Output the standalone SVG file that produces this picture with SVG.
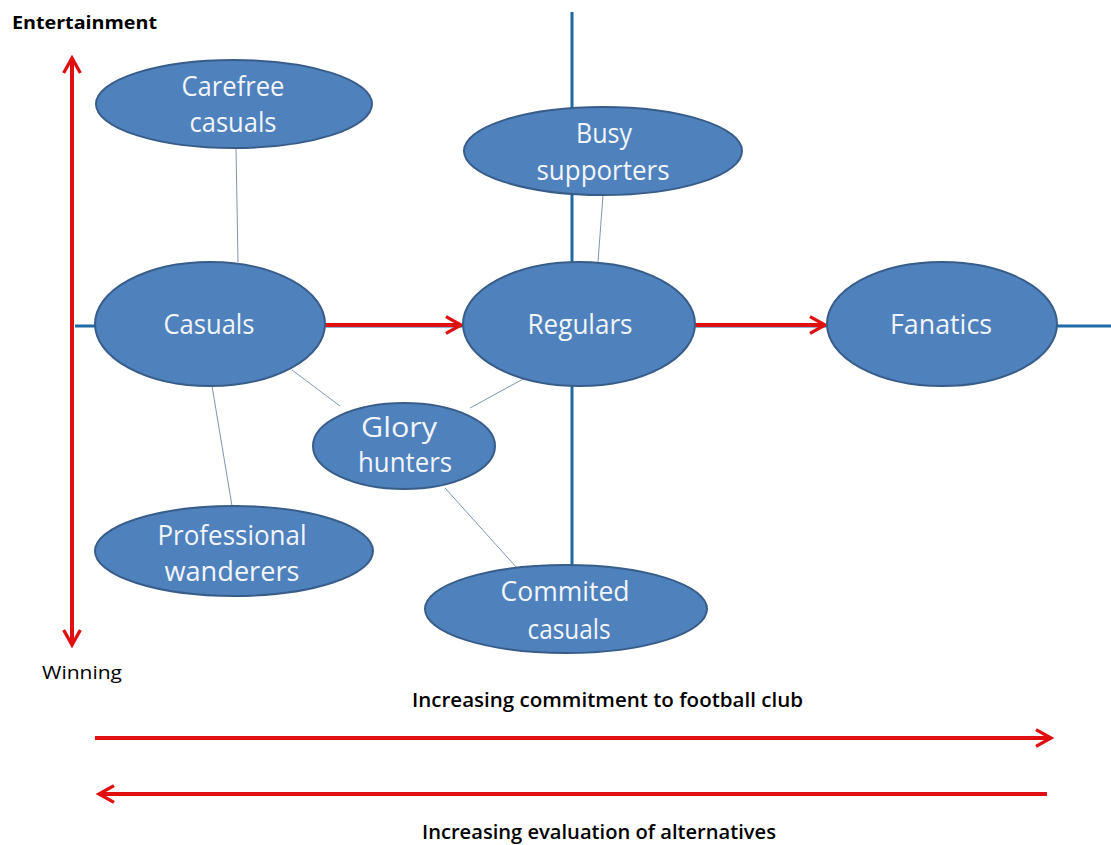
<svg xmlns="http://www.w3.org/2000/svg" width="1111" height="845" viewBox="0 0 1111 845">
<style>
.n ellipse{fill:#4f81bd;stroke:#385d8a;stroke-width:2}
.n text{fill:#f2f5fa;font-family:"Open Sans","Liberation Sans",sans-serif;font-size:27px;text-anchor:middle}
.axis{stroke:#1f6aa5;stroke-width:3;fill:none}
.thin{stroke:#7f96b2;stroke-width:1;fill:none}
.red{stroke:#e01010;stroke-width:4;fill:none}
.lbl{fill:#000;font-family:"Open Sans","Liberation Sans",sans-serif;font-size:19px;font-weight:600}
</style>
<defs>
<marker id="ah" viewBox="0 0 12 12" refX="10" refY="6" markerWidth="5" markerHeight="5" orient="auto-start-reverse" markerUnits="strokeWidth">
<path d="M1,1 L10,6 L1,11" fill="none" stroke="#e01010" stroke-width="2"/>
</marker>
</defs>
<rect width="1111" height="845" fill="#fff"/>
<g id="connectors">
<line class="axis" x1="572" y1="12" x2="572" y2="568"/>
<line class="axis" x1="75" y1="326" x2="1111" y2="326"/>
<line class="thin" x1="236" y1="148" x2="238" y2="262"/>
<line class="thin" x1="603" y1="195" x2="598" y2="262"/>
<line class="thin" x1="292" y1="370" x2="340" y2="406"/>
<line class="thin" x1="525" y1="378" x2="470" y2="408"/>
<line class="thin" x1="212" y1="386" x2="232" y2="506"/>
<line class="thin" x1="445" y1="488" x2="517" y2="568"/>
<line class="red" x1="72" y1="645" x2="72" y2="58" marker-start="url(#ah)" marker-end="url(#ah)"/>
<line class="red" x1="325" y1="325" x2="461" y2="325" marker-end="url(#ah)"/>
<line class="red" x1="685" y1="325" x2="825" y2="325" marker-end="url(#ah)"/>
<line class="red" x1="95" y1="738" x2="1051" y2="738" marker-end="url(#ah)"/>
<line class="red" x1="1047" y1="794" x2="99" y2="794" marker-end="url(#ah)"/>
</g>
<g id="carefree" class="n"><ellipse cx="234" cy="104" rx="138" ry="44"/><text x="233" y="96" textLength="103" lengthAdjust="spacingAndGlyphs">Carefree</text><text x="233" y="132" textLength="87" lengthAdjust="spacingAndGlyphs">casuals</text></g>
<g id="busy" class="n"><ellipse cx="603" cy="151" rx="139" ry="44"/><text x="604" y="143" textLength="56" lengthAdjust="spacingAndGlyphs">Busy</text><text x="603" y="180" textLength="133" lengthAdjust="spacingAndGlyphs">supporters</text></g>
<g id="casuals" class="n"><ellipse cx="210" cy="324" rx="115" ry="62"/><text x="209" y="334" textLength="91" lengthAdjust="spacingAndGlyphs">Casuals</text></g>
<g id="regulars" class="n"><ellipse cx="579" cy="324" rx="116" ry="62"/><text x="580" y="334" textLength="105" lengthAdjust="spacingAndGlyphs">Regulars</text></g>
<g id="fanatics" class="n"><ellipse cx="942" cy="324" rx="115" ry="62"/><text x="941" y="334" textLength="102" lengthAdjust="spacingAndGlyphs">Fanatics</text></g>
<g id="glory" class="n"><ellipse cx="404" cy="446" rx="91" ry="43"/><text x="399" y="437" textLength="76" lengthAdjust="spacingAndGlyphs">Glory</text><text x="405" y="472" textLength="94" lengthAdjust="spacingAndGlyphs">hunters</text></g>
<g id="professional" class="n"><ellipse cx="234" cy="551" rx="139" ry="45"/><text x="232" y="545" textLength="149" lengthAdjust="spacingAndGlyphs">Professional</text><text x="232" y="581" textLength="135" lengthAdjust="spacingAndGlyphs">wanderers</text></g>
<g id="commited" class="n"><ellipse cx="566" cy="609" rx="141" ry="44"/><text x="565" y="601" textLength="129" lengthAdjust="spacingAndGlyphs">Commited</text><text x="569" y="639" textLength="83" lengthAdjust="spacingAndGlyphs">casuals</text></g>
<text class="lbl" x="12" y="29" style="font-weight:bold;font-size:17px" textLength="145" lengthAdjust="spacingAndGlyphs">Entertainment</text>
<text class="lbl" x="42" y="679" style="font-weight:normal" textLength="80" lengthAdjust="spacingAndGlyphs">Winning</text>
<text class="lbl" x="412" y="707" textLength="391" lengthAdjust="spacingAndGlyphs">Increasing commitment to football  club</text>
<text class="lbl" x="422" y="839" textLength="354" lengthAdjust="spacingAndGlyphs">Increasing evaluation of alternatives</text>
</svg>
